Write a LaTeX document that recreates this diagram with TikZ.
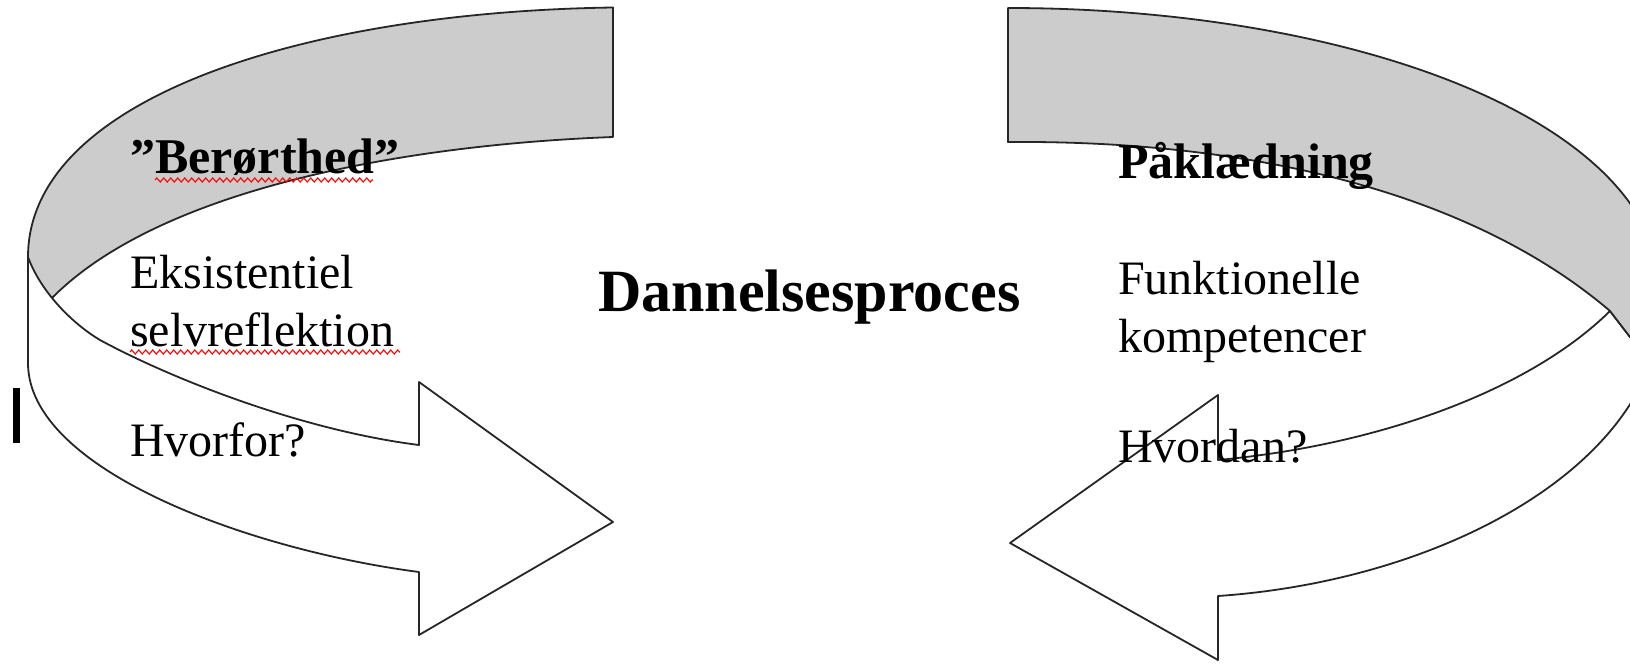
\documentclass[tikz,border=0pt]{standalone}
\usepackage{fontspec}
\setmainfont{Liberation Serif}
\usetikzlibrary{decorations.pathmorphing}
\tikzset{
  band/.style={draw=black!85, line width=1.8pt, line join=round},
  backband/.style={band, fill=black!20},
  frontband/.style={band, fill=white},
  lbl/.style={anchor=base west, inner sep=0pt, font=\fontsize{48}{58}\selectfont},
  blbl/.style={anchor=base west, inner sep=0pt, font=\fontsize{50}{60}\selectfont\bfseries},
  ttl/.style={anchor=base west, inner sep=0pt, font=\fontsize{60}{70}\selectfont\bfseries},
  squiggle/.style={draw=red, line width=1.1pt, decorate, decoration={zigzag, segment length=7pt, amplitude=2pt}}
}
\begin{document}
\begin{tikzpicture}[x=1pt,y=-1pt]
\useasboundingbox (0,0) rectangle (1630,664);
\clip (0,0) rectangle (1630,664);
% ---------------- left arrow ----------------
\path[backband] (613,137) -- (613,7.5)
  .. controls (300,12) and (28,100) .. (28,257)
  -- (28,320) -- (53,297)
  .. controls (160,190) and (400,145) .. (613,137)
  -- cycle;
\path[frontband] (28,257)
  .. controls (40,290) and (70,322) .. (100,340)
  .. controls (170,378) and (300,430) .. (419,445)
  -- (419,382) -- (613,522) -- (419,635) -- (419,572)
  .. controls (250,550) and (28,470) .. (28,363)
  -- cycle;
% ---------------- right arrow ----------------
\path[frontband] (1610,311)
  .. controls (1530,390) and (1380,445) .. (1218,460)
  -- (1218,395) -- (1010,543) -- (1218,660) -- (1218,596)
  .. controls (1450,580) and (1662,460) .. (1662,300)
  -- (1645,357) -- (1630,337) -- cycle;
\path[backband] (1008,142) -- (1008,8)
  .. controls (1350,8) and (1665,120) .. (1662,300)
  -- (1700,420) -- (1645,357) -- (1630,337) -- (1610,311)
  .. controls (1480,200) and (1270,140) .. (1008,142)
  -- cycle;
% ---------------- cursor mark ----------------
\fill[black] (13,388) rectangle (20,443);
% ---------------- texts ----------------
\node[blbl] (ber) at (130,173) {”Berørthed”};
\node[lbl] (eks) at (130,288) {Eksistentiel};
\node[lbl] (selv) at (130,346) {selvreflektion};
\node[lbl] (hvorfor) at (130,456) {Hvorfor?};
\node[ttl] (dan) at (598,311) {Dannelsesproces};
\node[blbl] (pak) at (1118,178) {Påklædning};
\node[lbl] (funk) at (1118,294) {Funktionelle};
\node[lbl] (komp) at (1118,352) {kompetencer};
\node[lbl] (hvordan) at (1118,462) {Hvordan?};
% spell-check underlines
\coordinate (u1a) at (155,180);
\coordinate (u1b) at (373,180);
\coordinate (u2a) at (130,352);
\coordinate (u2b) at (400,352);
\draw[squiggle] (u1a) -- (u1b);
\draw[squiggle] (u2a) -- (u2b);
\end{tikzpicture}
\end{document}
